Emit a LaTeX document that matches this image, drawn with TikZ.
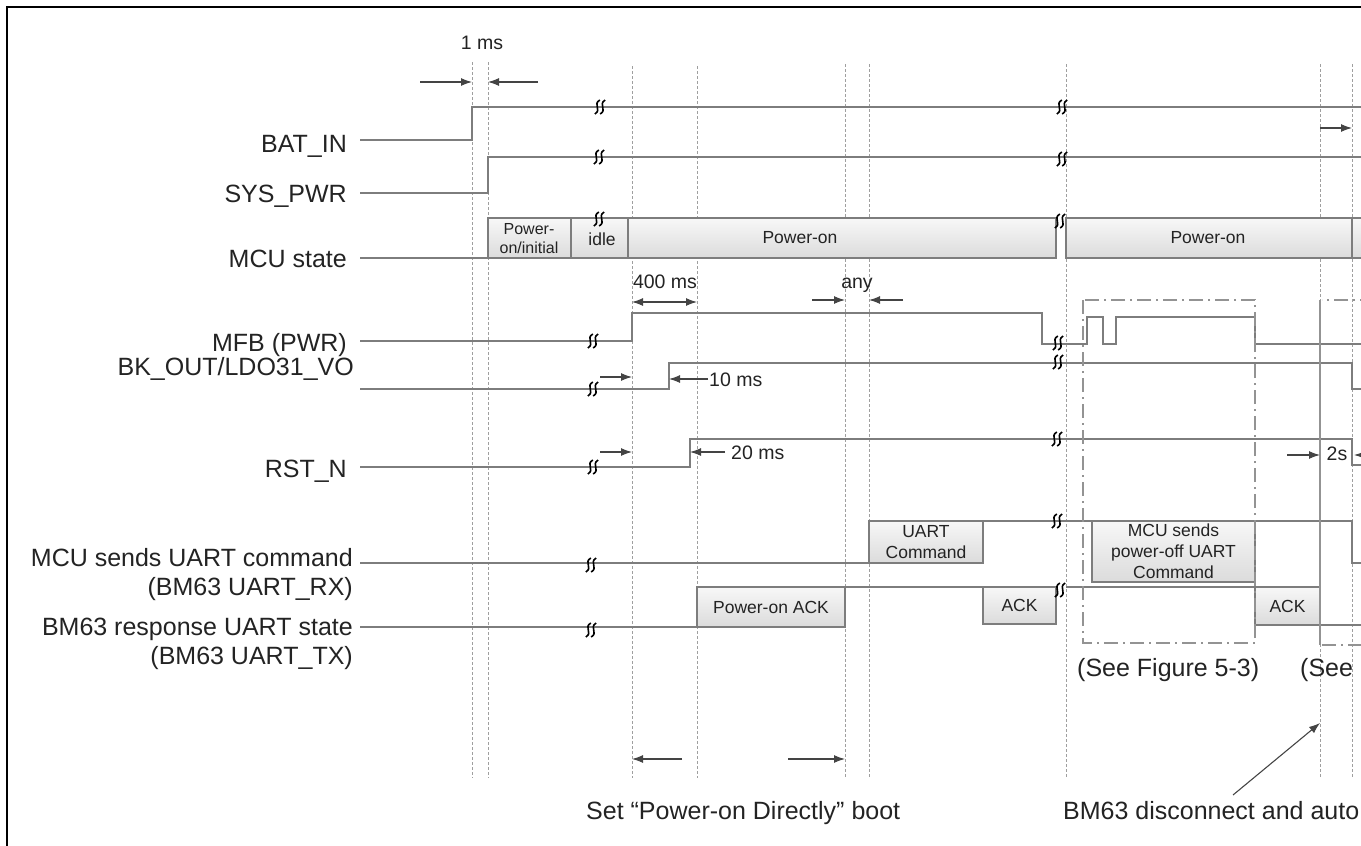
\documentclass[tikz,border=0pt]{standalone}
\usepackage{fontspec}
\setmainfont{Liberation Sans}
\usetikzlibrary{arrows.meta, positioning, calc}
\definecolor{sigcol}{RGB}{125,125,125}
\definecolor{inkcol}{RGB}{35,35,35}
\tikzset{
  sigline/.style={draw=sigcol, line width=1.3pt},
  guide/.style={draw=gray!75, line width=0.8pt, dash pattern=on 3pt off 2pt},
  statebox/.style={draw=sigcol, line width=1.1pt, top color=gray!6, bottom color=gray!28},
  seebox/.style={draw=gray!85, line width=1.2pt, dash pattern=on 14pt off 5pt on 2pt off 5pt},
  tarrow/.style={draw=inkcol!85, line width=1.1pt, -{Latex[length=11pt,width=8pt]}},
  siglabel/.style={anchor=base east, inner sep=0pt, text=inkcol, font=\fontsize{25}{29}\selectfont},
  boxtext/.style={inner sep=0pt, align=center, text=inkcol, font=\fontsize{17.5}{21}\selectfont},
  timetext/.style={inner sep=0pt, text=inkcol, font=\fontsize{19.5}{23}\selectfont},
  notetext/.style={anchor=base west, inner sep=0pt, text=inkcol, font=\fontsize{25}{29}\selectfont},
  brk/.pic={\foreach \d in {-2.7,2.7} \draw[black, line width=1.6pt] (\d+2.5,-7) .. controls (\d-5,-2.5) and (\d+5,2.5) .. (\d-2.5,7);}
}

\begin{document}
\begin{tikzpicture}[x=1pt, y=-1pt]
\useasboundingbox (0,0) rectangle (1361,846);
% Frame
\draw[black, line width=2.2pt] (7,846) -- (7,7) -- (1361,7);
% Guides
\foreach \x/\yt in {472/62, 488/62, 632/66, 697/66, 845/64, 869/64, 1066/64, 1320/64, 1352/64}
  \draw[guide] (\x,\yt) -- (\x,778);

% Signal names
\node[siglabel] (batin) at (347,152) {BAT\_IN};
\node[siglabel] (syspwr) at (347,202) {SYS\_PWR};
\node[siglabel] (mcust) at (347,267) {MCU state};
\node[siglabel] (mfb) at (347,351) {MFB (PWR)};
\node[siglabel] (bkout) at (354,375) {BK\_OUT/LDO31\_VO};
\node[siglabel] (rstn) at (347,477) {RST\_N};
\node[siglabel] (rxa) at (353,566) {MCU sends UART command};
\node[siglabel] (rxb) at (353,595) {(BM63 UART\_RX)};
\node[siglabel] (txa) at (353,635) {BM63 response UART state};
\node[siglabel] (txb) at (353,664) {(BM63 UART\_TX)};

% BAT_IN and SYS_PWR
\draw[sigline] (360,140) -- (472,140) -- (472,107) -- (1361,107);
\draw[sigline] (360,193) -- (488,193) -- (488,157) -- (1361,157);

% MCU state
\draw[sigline] (360,258) -- (488,258);
\draw[statebox] (488,218) rectangle (571,258);
\draw[statebox] (571,218) rectangle (628,258);
\draw[statebox] (628,218) rectangle (1056,258);
\draw[statebox] (1066,218) rectangle (1352,258);
\draw[statebox] (1352,218) rectangle (1400,258);
\node[boxtext, font=\fontsize{16}{19}\selectfont] (pinit) at (529,239) {Power-\\on/initial};
\node[boxtext] (idle) at (602,239) {idle};
\node[boxtext] (pon1) at (800,238) {Power-on};
\node[boxtext] (pon2) at (1208,238) {Power-on};

% MFB, BK_OUT, RST_N
\draw[sigline] (360,341) -- (632,341) -- (632,313) -- (1042,313) -- (1042,344) -- (1087,344) -- (1087,317)
  -- (1103,317) -- (1103,344) -- (1116,344) -- (1116,317) -- (1255,317) -- (1255,344) -- (1361,344);
\draw[sigline] (360,389) -- (669,389) -- (669,363) -- (1352,363) -- (1352,389) -- (1361,389);
\draw[sigline] (360,467) -- (690,467) -- (690,439) -- (1352,439) -- (1352,465) -- (1361,465);

% UART RX
\draw[sigline] (360,563) -- (869,563);
\draw[statebox] (869,521) rectangle (983,563) node[midway, boxtext] (uartcmd) {UART\\Command};
\draw[sigline] (983,521) -- (1352,521) -- (1352,563) -- (1361,563);
\draw[statebox] (1092,521) rectangle (1255,582) node[midway, boxtext] (offcmd) {MCU sends\\power-off UART\\Command};

% UART TX
\draw[sigline] (360,627) -- (697,627);
\draw[statebox] (697,587) rectangle (845,627) node[midway, boxtext] (onack) {Power-on ACK};
\draw[sigline] (845,587) -- (983,587);
\draw[statebox] (983,587) rectangle (1056,624) node[midway, boxtext] (ack1) {ACK};
\draw[sigline] (1066,587) -- (1255,587);
\draw[statebox] (1255,587) rectangle (1320,625) node[midway, boxtext] (ack2) {ACK};
\draw[sigline] (1320,625) -- (1361,625);

% Breaks
\foreach \bx/\by in {600/107, 599/157, 599/219, 593/341, 593/389, 593/467, 591/565, 591/630,
  1062/107, 1062/159, 1060/221, 1058/343, 1058/362, 1057/439, 1057/521, 1060/590}
  \pic at (\bx,\by) {brk};

% See boxes
\draw[seebox] (1083,300) rectangle (1255,643);
\draw[seebox] (1400,300) -- (1322,300);
\draw[seebox] (1322,645) -- (1400,645);
\draw[draw=gray!85, line width=1.2pt] (1320,300) -- (1320,645);
\node[notetext] (see1) at (1077,676) {(See Figure 5-3)};
\node[notetext] (see2) at (1300,676) {(See};

% Timing
\node[timetext, anchor=base] (t1ms) at (482,49) {1 ms};
\draw[tarrow] (420,82) -- (472,82);
\draw[tarrow] (538,82) -- (488,82);
\node[timetext, anchor=base] (t400) at (665,288) {400 ms};
\draw[tarrow, {Latex[length=11pt,width=8pt]}-{Latex[length=11pt,width=8pt]}] (632,302) -- (697,302);
\node[timetext, anchor=base] (tany) at (857,288) {any};
\draw[tarrow] (812,300) -- (845,300);
\draw[tarrow] (903,300) -- (869,300);
\node[timetext, anchor=base west] (t10) at (709,386) {10 ms};
\draw[tarrow] (600,377) -- (632,377);
\draw[tarrow] (708,379) -- (669,379);
\node[timetext, anchor=base west] (t20) at (731,459) {20 ms};
\draw[tarrow] (600,452) -- (632,452);
\draw[tarrow] (725,452) -- (690,452);
\node[timetext, anchor=base] (t2s) at (1337,460) {2s};
\draw[tarrow] (1287,455) -- (1320,455);
\draw[tarrow] (1385,455) -- (1354,455);
\draw[tarrow] (1320,128) -- (1352,128);

% Notes
\draw[tarrow] (682,759) -- (632,759);
\draw[tarrow] (788,759) -- (845,759);
\node[notetext] (bootnote) at (586,819) {Set “Power-on Directly” boot};
\node[notetext] (discnote) at (1063,819) {BM63 disconnect and auto};
\draw[tarrow] (1233,795) -- (1320,723);
\end{tikzpicture}
\end{document}
